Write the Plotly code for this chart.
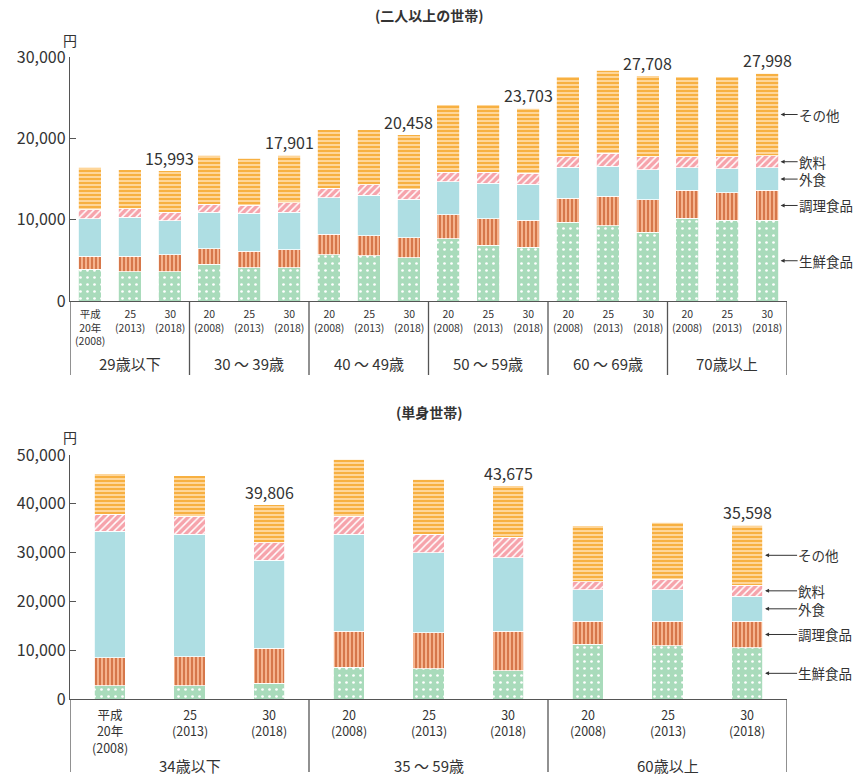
import plotly.graph_objects as go

# ---------------- data ----------------
categories = ["生鮮食品", "調理食品", "外食", "飲料", "その他"]

# 二人以上の世帯 (18 bars: 6 age groups x 3 years)
top_groups = ["29歳以下", "30 ～ 39歳", "40 ～ 49歳", "50 ～ 59歳", "60 ～ 69歳", "70歳以上"]
year_labels_first = ["平成<br>20年<br>(2008)", "25<br>(2013)", "30<br>(2018)"]
year_labels = ["20<br>(2008)", "25<br>(2013)", "30<br>(2018)"]
top_fresh   = [3900, 3610, 3610, 4520, 4070, 4070, 5670, 5540, 5300, 7640, 6860, 6610, 9690, 9280, 8460, 10180, 9900, 9900]
top_cooked  = [1600, 1890, 2060, 1930, 2050, 2210, 2540, 2510, 2460, 2960, 3280, 3290, 2960, 3570, 3980, 3410, 3410, 3690]
top_eatout  = [4640, 4810, 4190, 4470, 4640, 4640, 4480, 4930, 4770, 4060, 4360, 4470, 3780, 3740, 3700, 2800, 2950, 2800]
top_drink   = [1070, 1020, 1060, 990, 990, 1150, 1190, 1310, 1190, 1190, 1350, 1320, 1310, 1560, 1600, 1350, 1480, 1470]
top_other   = [5220, 4810, 5073, 5990, 5830, 5831, 7190, 6780, 6738, 8300, 8300, 8013, 9860, 10230, 9968, 9860, 9860, 10138]

# 単身世帯 (9 bars: 3 age groups x 3 years)
bot_groups = ["34歳以下", "35 ～ 59歳", "60歳以上"]
bot_fresh  = [2730, 2730, 3210, 6490, 6220, 5740, 11200, 10930, 10520]
bot_cooked = [5740, 5940, 7170, 7440, 7370, 8190, 4720, 4990, 5400]
bot_eatout = [25890, 25140, 18100, 19810, 16400, 15030, 6480, 6480, 5120]
bot_drink  = [3550, 3690, 3560, 3760, 3750, 4170, 1640, 2050, 2250]
bot_other  = [8200, 8200, 7766, 11680, 11270, 10545, 11480, 11750, 12308]

top_yticks = [0, 10000, 20000, 30000]
bot_yticks = [0, 10000, 20000, 30000, 40000, 50000]

# ---------------- styles ----------------
FONT = "Noto Sans CJK JP"
TXT = "#333333"
AX = "#555555"
styles = [
    dict(color="#a9dbbb", pattern=dict(shape=".", fgcolor="#ffffff", bgcolor="#a9dbbb", size=7, solidity=0.12)),
    dict(color="#f5b38d", pattern=dict(shape="|", fgcolor="#d6774a", bgcolor="#f5b38d", size=4, solidity=0.5)),
    dict(color="#aedee3", pattern=None),
    dict(color="#f6a3ab", pattern=dict(shape="/", fgcolor="#ffffff", bgcolor="#f6a3ab", size=5, solidity=0.3)),
    dict(color="#fed69a", pattern=dict(shape="-", fgcolor="#f6a62a", bgcolor="#fed69a", size=4, solidity=0.4)),
]

W, H = 858, 776
def py(p):  # pixel row -> paper y
    return 1 - p / H

x0p, x1p = 70 / W, 787 / W
top_dom = [py(301), py(57)]
bot_dom = [py(699), py(455)]

fig = go.Figure()

top_series = [top_fresh, top_cooked, top_eatout, top_drink, top_other]
bot_series = [bot_fresh, bot_cooked, bot_eatout, bot_drink, bot_other]
ntop = len(top_fresh)
nbot = len(bot_fresh)

def add_bars(series, xa, ya, width):
    n = len(series[0])
    for name, vals, st in zip(categories, series, styles):
        marker = dict(color=st["color"], line=dict(color="#ffffff", width=0.8))
        if st["pattern"]:
            marker["pattern"] = st["pattern"]
        fig.add_trace(go.Bar(x=list(range(n)), y=vals, name=name, marker=marker,
                             width=width, xaxis=xa, yaxis=ya, showlegend=False,
                             hoverinfo="y+name"))

add_bars(top_series, "x", "y", 0.58)
add_bars(bot_series, "x2", "y2", 0.39)

axis_common = dict(showgrid=False, zeroline=False, automargin=False)
fig.update_layout(
    width=W, height=H, template="none",
    margin=dict(l=0, r=0, t=0, b=0),
    paper_bgcolor="white", plot_bgcolor="white",
    barmode="stack",
    font=dict(family=FONT, color=TXT),
    xaxis=dict(domain=[x0p, x1p], anchor="y", range=[-0.5, ntop - 0.5],
               showticklabels=False, ticks="", showline=True, linecolor=AX, linewidth=1.3,
               **axis_common),
    yaxis=dict(domain=top_dom, anchor="x", range=[0, 30000], tickvals=top_yticks,
               tickformat=",d", ticks="inside", ticklen=6, tickcolor=AX,
               tickfont=dict(size=16, color=TXT), showline=True, linecolor=AX, linewidth=1.3,
               **axis_common),
    xaxis2=dict(domain=[x0p, x1p], anchor="y2", range=[-0.5, nbot - 0.5],
                showticklabels=False, ticks="", showline=True, linecolor=AX, linewidth=1.3,
                **axis_common),
    yaxis2=dict(domain=bot_dom, anchor="x2", range=[0, 50000], tickvals=bot_yticks,
                tickformat=",d", ticks="inside", ticklen=6, tickcolor=AX,
                tickfont=dict(size=16, color=TXT), showline=True, linecolor=AX, linewidth=1.3,
                **axis_common),
)

ann = []
shapes = []

def txt(text, x, y, xref="paper", yref="paper", size=14, xanchor="center", yanchor="middle"):
    ann.append(dict(text=text, x=x, y=y, xref=xref, yref=yref, showarrow=False,
                    xanchor=xanchor, yanchor=yanchor, borderpad=0,
                    font=dict(size=size, color=TXT)))

# titles and unit labels
txt("<b>(二人以上の世帯)</b>", 429 / W, py(15), size=14)
txt("<b>(単身世帯)</b>", 429 / W, py(412), size=14)
txt("円", x0p, py(40), size=14)
txt("円", x0p, py(437), size=14)

# x category (year) labels (multi-line, anchored at top)
def year_text(ngroups, xa, top_py, size):
    labels = year_labels_first + year_labels * (ngroups - 1)
    for i, lab in enumerate(labels):
        txt(lab, i, py(top_py), xref=xa, size=size, yanchor="top")

year_text(len(top_groups), "x", 305.5, 10.5)
year_text(len(bot_groups), "x2", 703.5, 12.5)

def totals(series):
    return [sum(v) for v in zip(*series)]

# value labels above latest-year bar of each group
for xa, ya, series, ngroups in [("x", "y", top_series, len(top_groups)), ("x2", "y2", bot_series, len(bot_groups))]:
    tot = totals(series)
    for g in range(ngroups):
        i = g * 3 + 2
        txt(f"{tot[i]:,}", i, tot[i], xref=xa, yref=ya, size=16, yanchor="bottom")

# group labels and separators
def groups(groups_list, xa, label_py, line_top_py, line_bot_py):
    for g, name in enumerate(groups_list):
        txt(name, g * 3 + 1, py(label_py), xref=xa, size=15)
    for k in range(len(groups_list) + 1):
        shapes.append(dict(type="line", xref=xa, yref="paper", x0=k * 3 - 0.5, x1=k * 3 - 0.5,
                           y0=py(line_top_py), y1=py(line_bot_py), line=dict(color=AX, width=1.3)))

groups(top_groups, "x", 363, 301, 375)
groups(bot_groups, "x2", 765, 699, 772)

# category labels with arrows pointing at the last bar
def cat_labels(series, xa, ya, xhead, ax):
    last = [s[-1] for s in series]
    cum = 0
    for name, v in zip(categories, last):
        mid = cum + v / 2
        cum += v
        ann.append(dict(text=name, x=xhead, y=mid, xref=xa, yref=ya, showarrow=True,
                        ax=ax, ay=0, xanchor="left", yanchor="middle", arrowhead=2,
                        arrowsize=0.8, arrowwidth=1, arrowcolor="#333333", borderpad=0,
                        font=dict(size=13.5, color=TXT)))

cat_labels(top_series, "x", "y", ntop - 1 + 0.29 + 0.05, 17)
cat_labels(bot_series, "x2", "y2", nbot - 1 + 0.195 + 0.03, 32)

fig.update_layout(annotations=ann, shapes=shapes)
fig.write_html("out.html", config={"displayModeBar": False},
               post_script="document.body.style.margin='0';")
